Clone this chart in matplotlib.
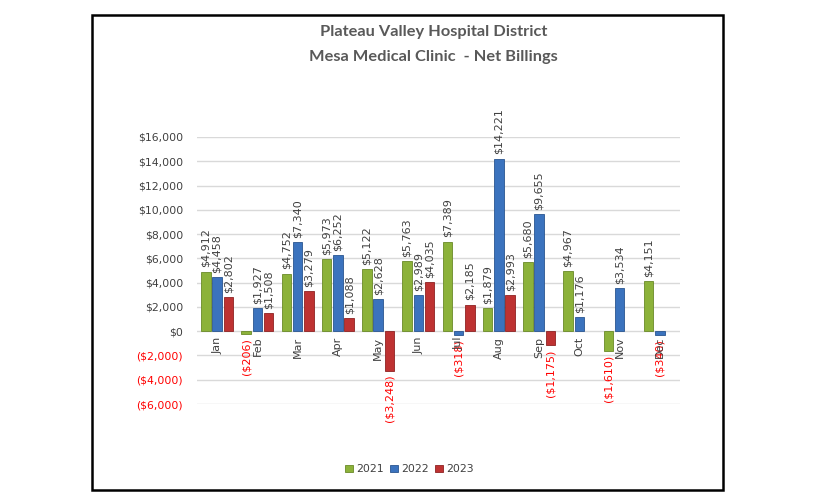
import numpy as np
import matplotlib.pyplot as plt
from matplotlib.patches import Rectangle

months = ['Jan', 'Feb', 'Mar', 'Apr', 'May', 'Jun', 'Jul', 'Aug', 'Sep', 'Oct', 'Nov', 'Dec']
years = ['2021', '2022', '2023']
v2021 = [4912, -206, 4752, 5973, 5122, 5763, 7389, 1879, 5680, 4967, -1610, 4151]
v2022 = [4458, 1927, 7340, 6252, 2628, 2989, -318, 14221, 9655, 1176, 3534, -340]
v2023 = [2802, 1508, 3279, 1088, -3248, 4035, 2185, 2993, -1175, None, None, None]
yticks = [-6000, -4000, -2000, 0, 2000, 4000, 6000, 8000, 10000, 12000, 14000, 16000]

colors = ['#8CB23A', '#3B73BE', '#BE3232']
edges = ['#6A8A28', '#2A5590', '#8E2222']


def money(v):
    if v < 0:
        return '(${:,})'.format(-v)
    return '${:,}'.format(v)


fig = plt.figure(figsize=(8.16, 5.04), dpi=100)
ax = fig.add_axes([197 / 816, 1 - 404 / 504, 483 / 816, 267 / 504])

x = np.arange(len(months))
width = 0.24
step = 0.28
for i, (vals, col, ec, yr) in enumerate(zip([v2021, v2022, v2023], colors, edges, years)):
    xs = [xx + (i - 1) * step for xx, v in zip(x, vals) if v is not None]
    vs = [v for v in vals if v is not None]
    ax.bar(xs, vs, width, color=col, edgecolor=ec, linewidth=0.6, label=yr, zorder=3)
    for xx, v in zip(xs, vs):
        if v >= 0:
            ax.annotate(money(v), (xx, v), xytext=(0, 3), textcoords='offset points',
                        rotation=90, ha='center', va='bottom', fontsize=8,
                        color='#404040', zorder=4)
        else:
            ax.annotate(money(v), (xx, v), xytext=(0, -3), textcoords='offset points',
                        rotation=90, ha='center', va='top', fontsize=8,
                        color='#FF0000', zorder=4)

# month labels just below the zero line
for xx, m in zip(x, months):
    ax.annotate(m, (xx, 0), xytext=(0, -4), textcoords='offset points',
                rotation=90, ha='center', va='top', fontsize=8, color='#404040', zorder=4)

ax.set_xlim(-0.5, 11.5)
ax.set_ylim(-6000, 16000)
ax.set_yticks(yticks)
ax.set_yticklabels([money(t) for t in yticks], fontsize=7.8)
for lab, t in zip(ax.get_yticklabels(), yticks):
    lab.set_color('#FF0000' if t < 0 else '#404040')
ax.set_xticks([])
ax.tick_params(axis='y', length=0, pad=10)
ax.grid(axis='y', color='#D9D9D9', linewidth=1, zorder=0)
for s in ax.spines.values():
    s.set_visible(False)

leg = ax.legend(loc='upper center', bbox_to_anchor=(0.44, -0.19), ncol=3, frameon=False,
                fontsize=7.8, handlelength=0.7, handleheight=0.7, handletextpad=0.3,
                columnspacing=0.6)
for t in leg.get_texts():
    t.set_color('#404040')

fig.text(0.531, 1 - 32 / 504, 'Plateau Valley Hospital District', ha='center', va='center',
         fontsize=11.8, fontweight='bold', color='#595959', family='Lato')
fig.text(0.531, 1 - 57 / 504, 'Mesa Medical Clinic  - Net Billings', ha='center', va='center',
         fontsize=11.8, fontweight='bold', color='#595959', family='Lato')

fig.patches.append(Rectangle((92 / 816, 1 - 490 / 504), 631 / 816, 475 / 504,
                             transform=fig.transFigure, fill=False, edgecolor='black',
                             linewidth=1.8))

fig.savefig('out.png', dpi=100)
